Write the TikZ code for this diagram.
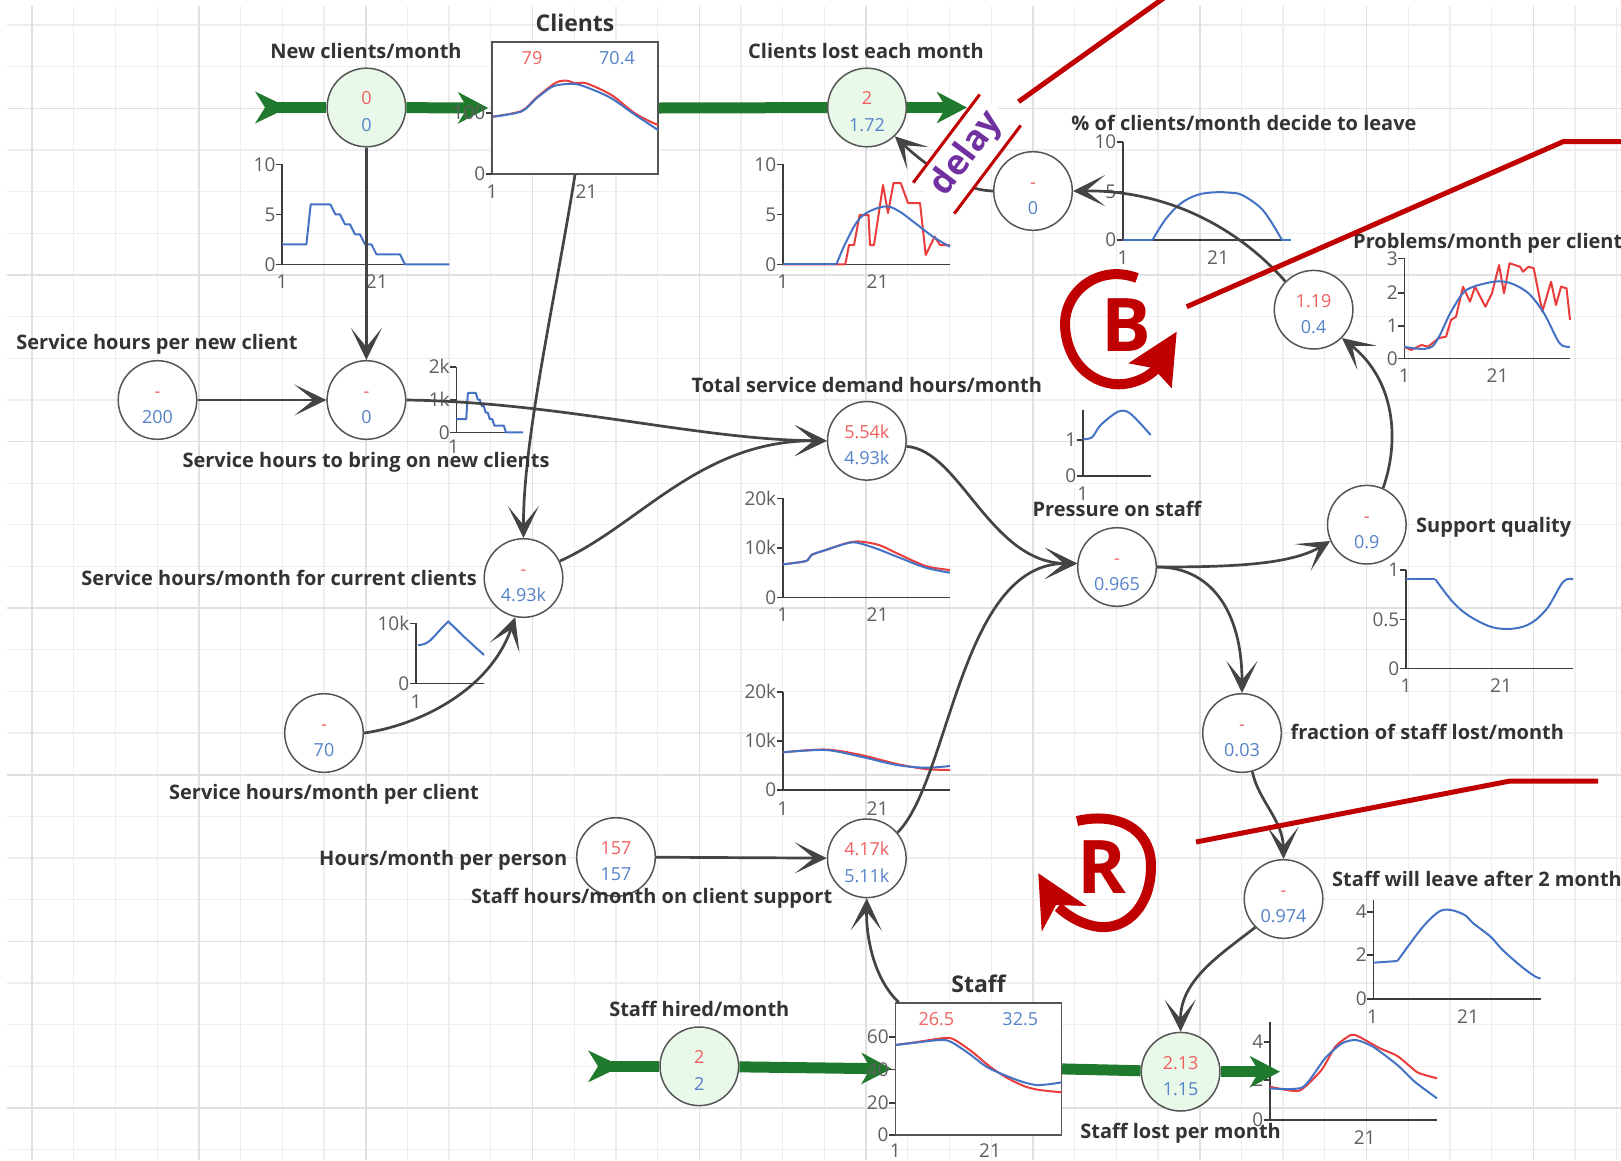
\documentclass[tikz,border=0pt]{standalone}
\usepackage{fontspec}
\setmainfont{Open Sans}
\usetikzlibrary{arrows.meta}

\definecolor{gridthin}{RGB}{238,238,238}
\definecolor{gridthick}{RGB}{224,224,224}
\definecolor{edgegray}{RGB}{85,85,85}
\definecolor{conngray}{RGB}{68,68,68}
\definecolor{labgray}{RGB}{51,51,51}
\definecolor{tickgray}{RGB}{95,95,95}
\definecolor{axisgray}{RGB}{60,60,60}
\definecolor{valred}{RGB}{240,96,96}
\definecolor{valblue}{RGB}{85,130,200}
\definecolor{linered}{RGB}{235,60,60}
\definecolor{lineblue}{RGB}{68,114,196}
\definecolor{flowgreen}{RGB}{32,122,46}
\definecolor{valvefill}{RGB}{233,249,233}
\definecolor{loopred}{RGB}{192,0,0}
\definecolor{delaypurple}{RGB}{112,48,160}

\newcommand\fsz[1]{\fontsize{#1}{#1}\selectfont}
% y tick: axis x, value y, label
\newcommand\mkytick[3]{\draw[ax] (#1-6,#2) -- (#1,#2); \node[tl,anchor=east] at (#1-6.5,#2) {#3};}
% x label under an axis at height #2
\newcommand\mkxlab[3]{\node[tl] at (#1,#2+17.5) {#3};}

\begin{document}
\begin{tikzpicture}[x=1pt,y=-1pt,
  gthin/.style={draw=gridthin,line width=1.3pt},
  gthick/.style={draw=gridthick,line width=1.6pt},
  var/.style={circle,draw=edgegray,line width=1.5pt,fill=white,minimum size=78.6pt,inner sep=0pt},
  valve/.style={var,fill=valvefill},
  stock/.style={rectangle,draw=edgegray,line width=1.5pt,fill=white,inner sep=0pt,minimum width=166pt,minimum height=132pt},
  lab/.style={font={\fsz{20}\bfseries},text=labgray,inner sep=0pt,text height=14.3pt,text depth=0pt},
  ttl/.style={font={\fsz{23}\bfseries},text=labgray,inner sep=0pt,text height=16.4pt,text depth=0pt},
  vr/.style={font={\fsz{18}},text=valred,inner sep=0pt,text height=12.9pt,text depth=0pt},
  vb/.style={vr,text=valblue},
  tl/.style={font={\fsz{19}},text=tickgray,inner sep=0pt,text height=13.6pt,text depth=0pt},
  ax/.style={draw=axisgray,line width=1.6pt},
  cb/.style={draw=lineblue,line width=2pt,line join=round},
  cr/.style={draw=linered,line width=2pt,line join=round},
  conn/.style={draw=conngray,line width=2.7pt,-{Stealth[length=32pt,width=31pt,inset=19pt]}},
  flow/.style={draw=flowgreen,line width=11pt},
  flowtip/.style={flow,-{Stealth[length=30pt,width=31pt,inset=9pt]}},
  redline/.style={draw=loopred,line width=5pt},
  loopline/.style={draw=loopred,line width=10pt},
  loopletter/.style={font={\fsz{74}\bfseries},text=loopred,inner sep=0pt,text height=52.8pt,text depth=0pt},
]
\useasboundingbox (0,0) rectangle (1621,1160);
\fill[white] (0,0) rectangle (1621,1160);

% background grid
\foreach \k in {0,...,38}{\draw[gthin] ({32.1+41.7*\k},6) -- ({32.1+41.7*\k},1160);}
\foreach \k in {0,...,27}{\draw[gthin] (7,{25+41.65*\k}) -- (1621,{25+41.65*\k});}
\foreach \k in {0,4,...,36}{\draw[gthick] ({32.1+41.7*\k},6) -- ({32.1+41.7*\k},1160);}
\foreach \k in {2,6,...,26}{\draw[gthick] (7,{25+41.65*\k}) -- (1621,{25+41.65*\k});}

% variables, valves and stocks
\node[valve] (A) at (366.4,107.5) {};
\node[stock] (Clients) at (575,108) {};
\node[valve] (C) at (867,107.5) {};
\node[var] (D) at (1033,191) {};
\node[var] (E) at (1313.6,309.7) {};
\node[var] (F) at (157.5,400) {};
\node[var] (G) at (366.4,400) {};
\node[var] (H) at (866.8,440.8) {};
\node[var] (I) at (523.5,578) {};
\node[var] (J) at (324,733) {};
\node[var] (K) at (1117,567) {};
\node[var] (L) at (1366.8,524.7) {};
\node[var] (M) at (1242,733) {};
\node[var] (N) at (1283.5,899) {};
\node[var] (O) at (616,857) {};
\node[var] (P) at (866.8,858.3) {};
\node[valve] (R) at (699.3,1066.3) {};
\node[stock] (Staff) at (978.4,1068.9) {};
\node[valve] (S) at (1180.6,1071.7) {};

% curves inside the Clients stock
\draw[cr] plot[smooth,tension=0.5] coordinates {(492.9,116.7) (521.4,111) (535.7,98.3) (550,86.7) (557.9,81.7) (566.8,80.7) (575.7,83.3) (586.4,83.3) (611.4,95) (632.9,112) (647,120) (657.9,125)};
\draw[cb] plot[smooth,tension=0.5] coordinates {(492.9,116.7) (521.4,111.5) (535.7,99) (550,88) (557.9,85) (575.7,84) (593.6,90) (611.4,98.3) (632.9,113.3) (647,122.7) (657.9,130)};

% curves inside the Staff stock
\draw[cr] plot[smooth,tension=0.5] coordinates {(895.3,1045) (917,1042) (941.8,1038.3) (953,1039) (972,1051.7) (990,1066.7) (1007.8,1078.3) (1025.7,1086.7) (1040,1090) (1061.4,1092.3)};
\draw[cb] plot[smooth,tension=0.5] coordinates {(895.3,1045) (915,1042.7) (940,1040) (950.7,1041.7) (968.6,1053.3) (986.4,1066.7) (1004.3,1075) (1022,1081.7) (1036.4,1085) (1050.7,1084) (1061.4,1082.3)};

% New clients/month chart
\draw[ax] (282.1,164.3) -- (282.1,264.3) -- (449.3,264.3);
\mkytick{282.1}{164.3}{10} \mkytick{282.1}{214.3}{5} \mkytick{282.1}{264.3}{0}
\mkxlab{282.1}{264.3}{1} \mkxlab{376.8}{264.3}{21}
\draw[cb] (282.1,244.3) -- (306.4,244.3) -- (310.7,204.3) -- (330.3,204.3) -- (335.3,214.3) -- (340,214.3) -- (345,224.3) -- (350,224.3) -- (355,234.3) -- (360,234.3) -- (365,244.3) -- (371.4,244.3) -- (376.4,254.3) -- (400,254.3) -- (405,264.3) -- (449.3,264.3);

% Clients lost each month chart
\draw[ax] (782.9,164.3) -- (782.9,264.3) -- (950,264.3);
\mkytick{782.9}{164.3}{10} \mkytick{782.9}{214.3}{5} \mkytick{782.9}{264.3}{0}
\mkxlab{782.9}{264.3}{1} \mkxlab{877.5}{264.3}{21}
\draw[cr] (782.9,264.3) -- (845.3,264.3) -- (849,245) -- (854,245) -- (859.6,215) -- (868.5,215) -- (870,245) -- (874,245) -- (883,185) -- (888,213) -- (893.5,183) -- (900.7,183) -- (908,203) -- (920,203) -- (925.7,255) -- (934.6,236.7) -- (940,245) -- (950,245);
\draw[cb] (782.9,264.3) -- (836.4,264.3);
\draw[cb] plot[smooth,tension=0.6] coordinates {(836.4,264.3) (847,240) (861.4,216.7) (883,206.7) (897,210) (915,223) (933,236.7) (950,246.7)};

% % of clients/month decide to leave chart
\draw[ax] (1123,141.7) -- (1123,240) -- (1290.5,240);
\mkytick{1123}{141.7}{10} \mkytick{1123}{191.7}{5} \mkytick{1123}{240}{0}
\mkxlab{1123}{240}{1} \mkxlab{1218}{240}{21}
\draw[cb] (1123,240) -- (1152.5,240);
\draw[cb] plot[smooth,tension=0.6] coordinates {(1152.5,240) (1165,220) (1180,204) (1197,195) (1214.6,192.3) (1230,192.7) (1242,195) (1259.4,206.7) (1270,220) (1282,240)};
\draw[cb] (1282,240) -- (1290.5,240);

% Problems/month per client chart
\draw[ax] (1404.3,258.3) -- (1404.3,358.3) -- (1570,358.3);
\mkytick{1404.3}{258.3}{3} \mkytick{1404.3}{292.7}{2} \mkytick{1404.3}{326}{1} \mkytick{1404.3}{358.3}{0}
\mkxlab{1404.3}{358.3}{1} \mkxlab{1497.5}{358.3}{21}
\draw[cr] (1404.3,346.7) -- (1411,350) -- (1421.5,345) -- (1428,346.7) -- (1439,338) -- (1446,336.7) -- (1451,320) -- (1456,316.7) -- (1463,286.7) -- (1470,301.7) -- (1475,286.7) -- (1485.4,306.7) -- (1492,293.3) -- (1499,265) -- (1504,293.3) -- (1509.5,263.3) -- (1520,266.7) -- (1523,271.7) -- (1528.5,266.7) -- (1533.7,268.3) -- (1542.3,311.7) -- (1551,281.7) -- (1556,305) -- (1561,286.7) -- (1566.5,288.3) -- (1570,320);
\draw[cb] plot[smooth,tension=0.5] coordinates {(1404.3,346.7) (1432,346.7) (1451,311.7) (1466.4,290) (1494,281.7) (1511,283.3) (1528.5,293.3) (1544,313.3) (1559.6,343.3) (1570,346.7)};

% Service hours to bring on new clients chart
\draw[ax] (456.4,366.7) -- (456.4,432.3) -- (523,432.3);
\mkytick{456.4}{366.7}{2k} \mkytick{456.4}{400}{1k} \mkytick{456.4}{432.3}{0}
\node[tl] at (453.5,446.7) {1};
\draw[cb] (456.4,419.2) -- (466.2,419.2) -- (467.9,392.9) -- (475.8,392.9) -- (477.8,399.5) -- (479.7,399.5) -- (481.7,406) -- (483.7,406) -- (485.7,412.6) -- (487.8,412.6) -- (489.8,419.2) -- (492.3,419.2) -- (494.4,425.7) -- (503.9,425.7) -- (505.9,432.3) -- (523,432.3);

% Service hours/month for current clients chart
\draw[ax] (416,623.3) -- (416,683.3) -- (484,683.3);
\mkytick{416}{623.3}{10k} \mkytick{416}{683.3}{0}
\node[tl] at (416,701.7) {1};
\draw[cb] plot[smooth,tension=0.6] coordinates {(418,645) (428.6,641.7) (446.4,623.3) (450,623.3) (464,636.7) (484,655)};

% Total service demand chart
\draw[ax] (782.9,498.3) -- (782.9,597.3) -- (950,597.3);
\mkytick{782.9}{498.3}{20k} \mkytick{782.9}{547.7}{10k} \mkytick{782.9}{597.3}{0}
\mkxlab{782.9}{597.3}{1} \mkxlab{877.5}{597.3}{21}
\draw[cr] plot[smooth,tension=0.5] coordinates {(782.9,564.3) (806,561) (811.4,555) (825.7,550) (847,543) (860,541.5) (879,545) (897,553.3) (925.7,566) (950,570)};
\draw[cb] plot[smooth,tension=0.5] coordinates {(782.9,564.3) (806,561) (811.4,555) (825.7,550) (847,543.3) (857,542.7) (875.7,548.3) (897,556.7) (925.7,567.7) (950,572.7)};

% Staff hours/month on client support chart
\draw[ax] (782.9,691.7) -- (782.9,790) -- (950,790);
\mkytick{782.9}{691.7}{20k} \mkytick{782.9}{741}{10k} \mkytick{782.9}{790}{0}
\mkxlab{782.9}{790.8}{1} \mkxlab{877.5}{790.8}{21}
\draw[cr] plot[smooth,tension=0.5] coordinates {(782.9,752.3) (825.7,749.5) (861,755) (897,764) (925.7,769) (950,770)};
\draw[cb] plot[smooth,tension=0.5] coordinates {(782.9,752.3) (825.7,750) (861,756.7) (897,765) (925.7,767.7) (950,766)};

% Pressure on staff chart
\draw[ax] (1082.9,410) -- (1082.9,475.7) -- (1150.7,475.7);
\mkytick{1082.9}{440}{1} \mkytick{1082.9}{475.7}{0}
\node[tl] at (1082.9,493.3) {1};
\draw[cb] plot[smooth,tension=0.5] coordinates {(1082.9,439.3) (1092,437.3) (1100.7,425) (1118,411.7) (1130,413.3) (1150.7,435)};

% Support quality chart
\draw[ax] (1406,570) -- (1406,668.3) -- (1573,668.3);
\mkytick{1406}{570}{1} \mkytick{1406}{619.3}{0.5} \mkytick{1406}{668.3}{0}
\mkxlab{1406}{668.3}{1} \mkxlab{1501}{668.3}{21}
\draw[cb] (1406,579.3) -- (1435.4,579.3);
\draw[cb] plot[smooth,tension=0.6] coordinates {(1435.4,579.3) (1454,603.3) (1473,618.3) (1497.5,628.3) (1525,626) (1545.8,610) (1563,582) (1573,579.3)};

% Staff will leave after 2 months chart
\draw[ax] (1373.3,900) -- (1373.3,999) -- (1540.6,999);
\mkytick{1373.3}{911.7}{4} \mkytick{1373.3}{955}{2} \mkytick{1373.3}{999}{0}
\mkxlab{1372.6}{999.2}{1} \mkxlab{1468}{999.2}{21}
\draw[cb] (1373.3,962.7) -- (1397.4,961);
\draw[cb] plot[smooth,tension=0.5] coordinates {(1397.4,961) (1421.6,928.3) (1438.8,911.7) (1450.9,910) (1464.7,915) (1473.3,923.3) (1490.6,936.7) (1502.6,950) (1521.6,966.7) (1535.4,976.7) (1540.6,978.3)};

% Staff lost per month chart
\draw[ax] (1269.8,1021.7) -- (1269.8,1120) -- (1437,1120);
\mkytick{1269.8}{1041.7}{4} \mkytick{1269.8}{1080}{2} \mkytick{1269.8}{1120}{0}
\node[tl] at (1364.6,1138) {21};
\draw[cr] plot[smooth,tension=0.4] coordinates {(1269.8,1086.7) (1287,1090) (1300.8,1090) (1321.5,1070) (1335.3,1046.7) (1350.8,1035) (1359,1036.7) (1380,1048.3) (1397.4,1056) (1416.4,1071.7) (1425,1075) (1437,1078.3)};
\draw[cb] plot[smooth,tension=0.4] coordinates {(1269.8,1088.3) (1302.5,1087.3) (1325,1058.3) (1342,1043.3) (1356,1040) (1373,1046.7) (1397.4,1065) (1414.7,1081.7) (1437,1098.3)};

% information links
\draw[conn] (A) -- (G);
\draw[conn] (F) -- (G);
\draw[conn] (G.east) .. controls (560,402) and (700,440) .. (H.west);
\draw[conn] (Clients.south) .. controls (555,300) and (523,440) .. (I.north);
\draw[conn] (J.east) .. controls (420,725) and (490,690) .. (I.258);
\draw[conn] (I.25) .. controls (640,525) and (700,440) .. (H.west);
\draw[conn] (H.-8) .. controls (960,450) and (990,563) .. (K.175);
\draw[conn] (P.40) .. controls (950,780) and (960,563) .. (K.175);
\draw[conn] (D.west) .. controls (960,190) and (925,165) .. (C.-46);
\draw[conn] (E.135) .. controls (1240,230) and (1170,190) .. (D.east);
\draw[conn] (L.66) .. controls (1400,440) and (1395,380) .. (E.-45);
\draw[conn] (K.east) .. controls (1230,567) and (1290,565) .. (L.204);
\draw[conn] (K.east) .. controls (1210,567) and (1242,610) .. (M.north);
\draw[conn] (M.285) .. controls (1258,800) and (1283,820) .. (N.north);
\draw[conn] (N.225) .. controls (1220,955) and (1180,980) .. (S.north);
\draw[conn] ([xshift=4pt]Staff.north west) .. controls (875,980) and (866,940) .. (P.south);
\draw[conn] (O) -- (P);

% material flows
\coordinate (srcA) at (265,107.5);
\coordinate (sinkC) at (967,107.5);
\coordinate (srcR) at (598,1066.3);
\coordinate (sinkS) at (1280,1071.7);
\fill[flowgreen] (srcA) ++(-10,-16) -- ++(22,10.5) -- ++(0,11) -- ++(-22,10.5) -- ++(10,-16) -- cycle;
\fill[flowgreen] (srcR) ++(-10,-16) -- ++(22,10.5) -- ++(0,11) -- ++(-22,10.5) -- ++(10,-16) -- cycle;
\draw[flow] (srcA) -- (A);
\draw[flowtip,shorten >=3pt] (A) -- (Clients.west);
\draw[flow] (Clients.east) -- (C);
\draw[flowtip] (C) -- (sinkC);
\draw[flow] (srcR) -- (R);
\draw[flowtip,shorten >=3pt] (R) -- (Staff.west);
\draw[flow] (Staff.east) -- (S);
\draw[flowtip] (S) -- (sinkS);

% axis labels of the two stocks, above the flow arrows
\mkytick{492}{113}{100} \mkytick{492}{174}{0}
\mkxlab{492}{174.5}{1} \mkxlab{586.4}{174.5}{21}
\mkytick{895.3}{1036.7}{60} \mkytick{895.3}{1069.3}{40} \mkytick{895.3}{1102.7}{20} \mkytick{895.3}{1135}{0}
\mkxlab{895.3}{1133}{1} \mkxlab{990}{1133}{21}

% values in the circles
\foreach \n/\r/\b in {A/0/0, C/2/1.72, D/-/0, E/1.19/0.4, F/-/200, G/-/0, H/5.54k/4.93k, I/-/4.93k, J/-/70, K/-/0.965, L/-/0.9, M/-/0.03, N/-/0.974, O/157/157, P/4.17k/5.11k, R/2/2, S/2.13/1.15}{
  \node[vr] at ([yshift=9pt]\n.center) {\r};
  \node[vb] at ([yshift=-17.5pt]\n.center) {\b};
}
\node[vr] at (532,58) {79};
\node[vb] at (617,58) {70.4};
\node[vr] at (936.4,1019.3) {26.5};
\node[vb] at (1020.3,1019.3) {32.5};

% names
\node[ttl] at (575,23) {Clients};
\node[ttl] at (978.6,984) {Staff};
\node[lab] at (366,51.7) {New clients/month};
\node[lab] at (866,51.7) {Clients lost each month};
\node[lab] at (1244,123) {\% of clients/month decide to leave};
\node[lab,anchor=west] at (1353,241.7) {Problems/month per client};
\node[lab] at (157,342.7) {Service hours per new client};
\node[lab] at (366,460) {Service hours to bring on new clients};
\node[lab] at (866.8,385) {Total service demand hours/month};
\node[lab,anchor=east] at (477,578.3) {Service hours/month for current clients};
\node[lab] at (324,792.5) {Service hours/month per client};
\node[lab] at (1117,509) {Pressure on staff};
\node[lab,anchor=west] at (1416,525) {Support quality};
\node[lab,anchor=west] at (1290.5,732.7) {fraction of staff lost/month};
\node[lab,anchor=west] at (1332,879.3) {Staff will leave after 2 month};
\node[lab,anchor=east] at (567.5,858.3) {Hours/month per person};
\node[lab] at (651.7,896) {Staff hours/month on client support};
\node[lab] at (699.3,1009.3) {Staff hired/month};
\node[lab] at (1180.6,1131) {Staff lost per month};

% delay mark on the link into Clients lost each month
\node[fill=white,minimum width=110pt,minimum height=51pt,inner sep=0pt,rotate=53] (delaybox) at (967,154) {};
\draw[draw=loopred,line width=3pt] (delaybox.north west) -- (delaybox.north east);
\draw[draw=loopred,line width=3pt] (delaybox.south west) -- (delaybox.south east);
\node[rotate=53,text=delaypurple,font={\fsz{35}\bfseries},inner sep=0pt] at (delaybox.center) {delay};

% loop annotations
\coordinate (b1) at (1018.5,101.7);
\coordinate (b2) at (1175,-10);
\draw[redline] (b1) -- (b2);
\coordinate (c1) at (1186.7,306.7);
\coordinate (c2) at (1563,141.7);
\coordinate (c3) at (1625,141.7);
\draw[redline] (c1) -- (c2) -- (c3);
\coordinate (d1) at (1196,842);
\coordinate (d2) at (1510,781);
\coordinate (d3) at (1598,781);
\draw[redline] (d1) -- (d2) -- (d3);

% balancing loop B
\draw[loopline] (1137,278) .. controls (1100,264) and (1064,290) .. (1065,326) .. controls (1067,368) and (1100,390) .. (1130,383) .. controls (1142,380) and (1150,375) .. (1156,369);
\fill[loopred] (1176.7,331.7) -- (1128.3,363.3) -- (1153,368) -- (1171.7,388.3) -- cycle;
\node[loopletter] (Bl) at (1126.7,325) {B};

% reinforcing loop R
\draw[loopline] (1077,821) .. controls (1115,812) and (1151,827) .. (1151,866) .. controls (1151,905) and (1128,929) .. (1100,927) .. controls (1082,925) and (1068,916) .. (1058,907);
\fill[loopred] (1038.3,873.3) -- (1086.7,906) -- (1056,905) -- (1041.7,931.7) -- cycle;
\node[loopletter] (Rl) at (1102.3,866.7) {R};
\end{tikzpicture}
\end{document}
